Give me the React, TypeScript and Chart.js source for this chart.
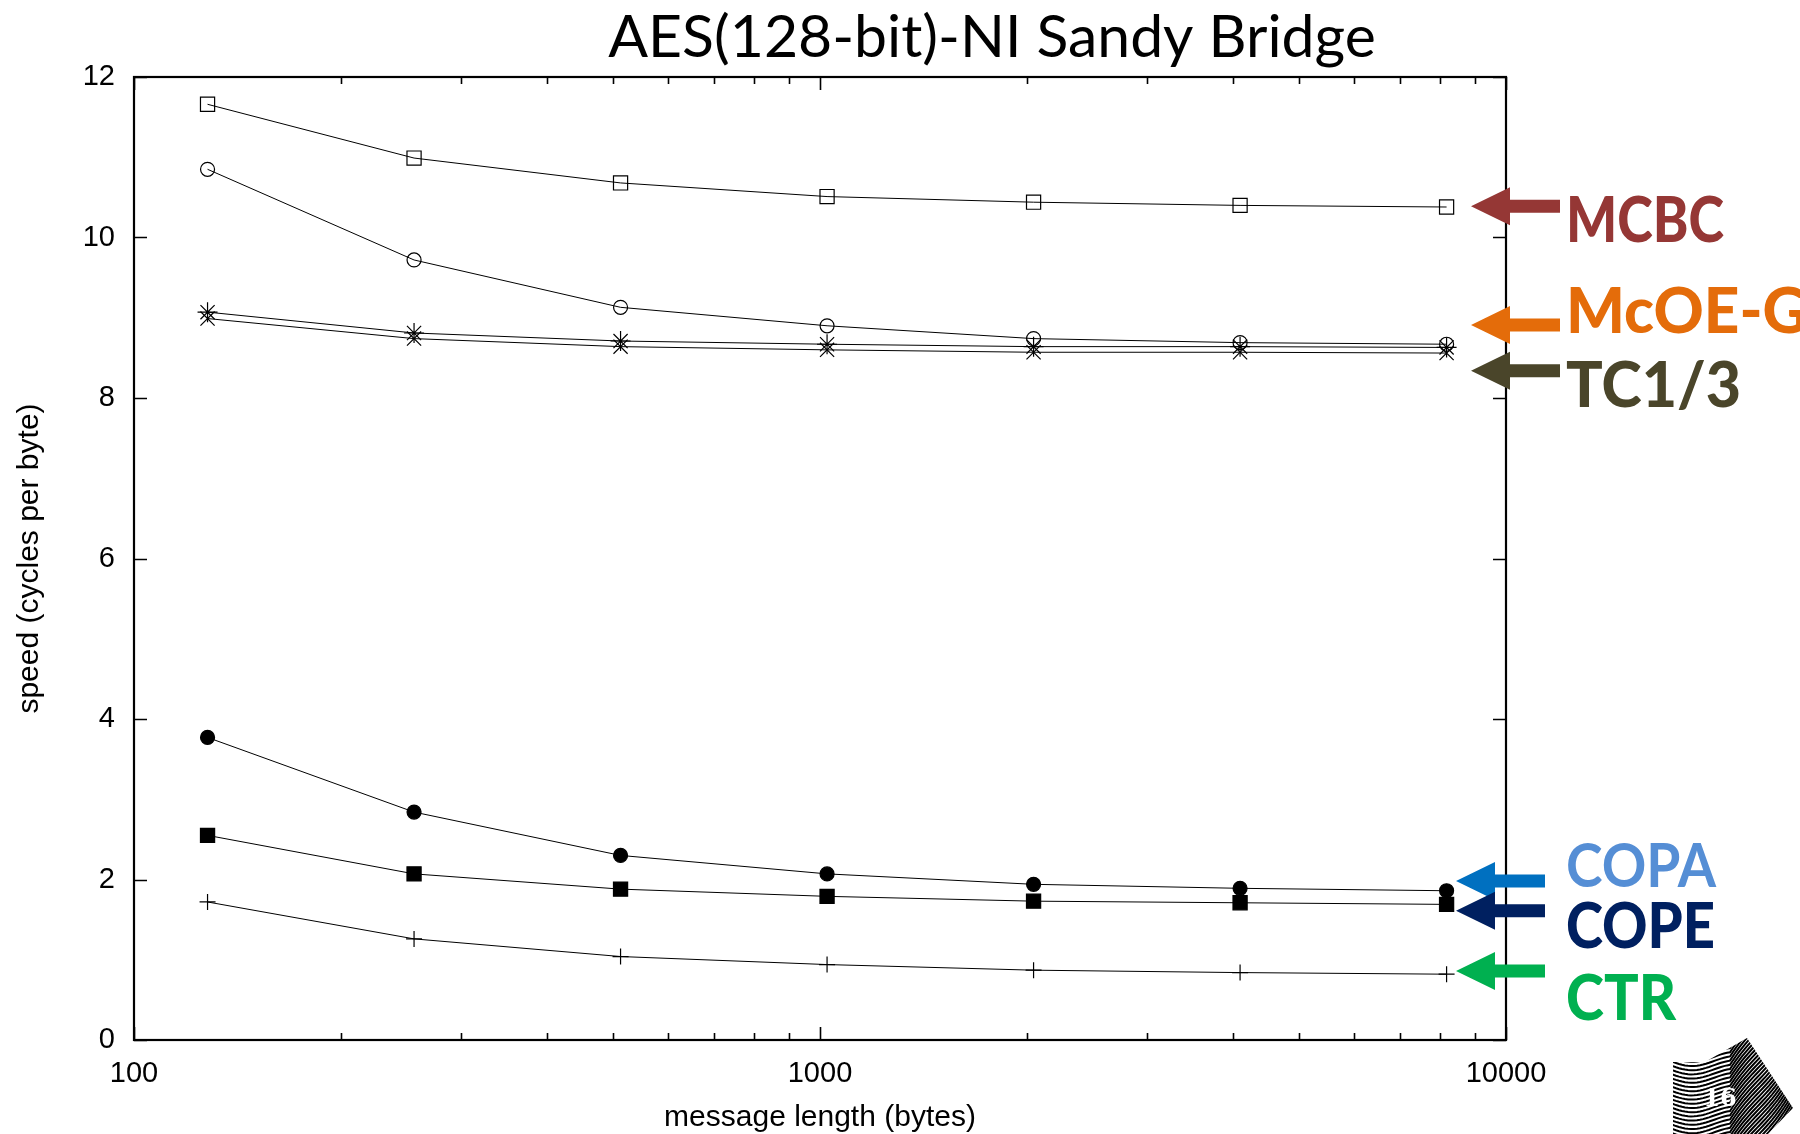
import React, { useEffect, useRef } from 'react';
import { Chart, registerables } from 'chart.js';

Chart.register(...registerables);

// ---- data ----
const messageLengths = [128, 256, 512, 1024, 2048, 4096, 8192];
const mcbcSpeed = [11.66, 10.99, 10.68, 10.51, 10.44, 10.40, 10.38];
const mcoegSpeed = [10.85, 9.72, 9.13, 8.90, 8.74, 8.69, 8.67];
const tc1Speed = [9.07, 8.81, 8.71, 8.67, 8.64, 8.64, 8.63];
const tc3Speed = [8.99, 8.74, 8.64, 8.60, 8.57, 8.57, 8.56];
const copaSpeed = [3.77, 2.84, 2.30, 2.07, 1.94, 1.89, 1.86];
const copeSpeed = [2.55, 2.07, 1.88, 1.79, 1.73, 1.71, 1.69];
const ctrSpeed = [1.72, 1.26, 1.04, 0.94, 0.87, 0.84, 0.82];

const xMajorTicks = [100, 1000, 10000];
const xMinorTicks = [200, 300, 400, 500, 600, 700, 800, 900, 2000, 3000, 4000, 5000, 6000, 7000, 8000, 9000];
const yTickValues = [0, 2, 4, 6, 8, 10, 12];

const chartTitle = 'AES(128-bit)-NI Sandy Bridge';
const xTitle = 'message length (bytes)';
const yTitle = 'speed (cycles per byte)';

// annotation labels: arrow points at a speed value
const noteTexts = ['MCBC', 'McOE-G', 'TC1/3', 'COPA', 'COPE', 'CTR'];
const noteArrowAt = [10.39, 8.91, 8.34, 1.98, 1.61, 0.86];
const noteTextAt = [9.94, 8.81, 7.89, 1.91, 1.15, 0.25];
const noteArrowColors = ['#953735', '#E46C0A', '#4A452A', '#0070C0', '#002060', '#00B050'];
const noteTextColors = ['#953735', '#E46C0A', '#4A452A', '#558ED5', '#002060', '#00B050'];
const noteTextWidths = [158, 260, 175, 150, 149, 110];
const noteGroup = [0, 0, 0, 1, 1, 1];

const AXIS_FONT = '"Liberation Sans", Arial, Helvetica, sans-serif';

const toPoints = (ys: number[]) => messageLengths.map((x, i) => ({ x, y: ys[i] }));

const framePlugin = {
  id: 'gnuplotFrame',
  afterDatasetsDraw(chart: any) {
    const { ctx, chartArea } = chart;
    const xs = chart.scales.x;
    const ys = chart.scales.y;
    const { left, right, top, bottom } = chartArea;
    ctx.save();
    ctx.strokeStyle = '#000';
    ctx.lineWidth = 1.6;
    ctx.beginPath();
    for (const v of yTickValues) {
      const py = Math.round(ys.getPixelForValue(v)) + 0.5;
      ctx.moveTo(left, py); ctx.lineTo(left + 13, py);
      ctx.moveTo(right, py); ctx.lineTo(right - 13, py);
    }
    for (const v of xMajorTicks) {
      const px = Math.round(xs.getPixelForValue(v)) + 0.5;
      ctx.moveTo(px, bottom); ctx.lineTo(px, bottom - 13);
      ctx.moveTo(px, top); ctx.lineTo(px, top + 13);
    }
    for (const v of xMinorTicks) {
      const px = Math.round(xs.getPixelForValue(v)) + 0.5;
      ctx.moveTo(px, bottom); ctx.lineTo(px, bottom - 7);
      ctx.moveTo(px, top); ctx.lineTo(px, top + 7);
    }
    ctx.stroke();
    ctx.lineWidth = 2.2;
    ctx.strokeRect(left, top, right - left, bottom - top);
    ctx.restore();
  },
  afterDraw(chart: any) {
    const { ctx, chartArea } = chart;
    const ys = chart.scales.y;
    const right = chartArea.right;
    ctx.save();

    // title
    ctx.fillStyle = '#000';
    let size = 52;
    ctx.font = `${size}px Lato, "Open Sans", sans-serif`;
    const w = ctx.measureText(chartTitle).width;
    size = size * 768 / w;
    ctx.font = `${size.toFixed(1)}px Lato, "Open Sans", sans-serif`;
    ctx.textAlign = 'center';
    ctx.textBaseline = 'alphabetic';
    ctx.fillText(chartTitle, (chartArea.left + right) / 2 + 172, 57);

    // arrows + labels
    noteTexts.forEach((txt, i) => {
      const cy = ys.getPixelForValue(noteArrowAt[i]);
      const g = noteGroup[i];
      const tip = g === 0 ? right - 35 : right - 50;
      const headBack = tip + 39;
      const shaftEnd = tip + 89;
      ctx.fillStyle = noteArrowColors[i];
      ctx.beginPath();
      ctx.moveTo(tip, cy);
      ctx.lineTo(headBack, cy - 19);
      ctx.lineTo(headBack, cy - 6.5);
      ctx.lineTo(shaftEnd, cy - 6.5);
      ctx.lineTo(shaftEnd, cy + 6.5);
      ctx.lineTo(headBack, cy + 6.5);
      ctx.lineTo(headBack, cy + 19);
      ctx.closePath();
      ctx.fill();

      const ty = ys.getPixelForValue(noteTextAt[i]);
      ctx.fillStyle = noteTextColors[i];
      ctx.font = `${i === 3 ? 'bold' : '900'} 62px Lato, "Open Sans", sans-serif`;
      ctx.textAlign = 'left';
      ctx.textBaseline = 'alphabetic';
      ctx.fillText(txt, right + 60, ty, noteTextWidths[i]);
    });

    // page-number watermark
    ctx.save();
    ctx.beginPath();
    ctx.moveTo(1673, 1062);
    ctx.lineTo(1705, 1062);
    ctx.lineTo(1747, 1038);
    ctx.lineTo(1793, 1108);
    ctx.lineTo(1768, 1134);
    ctx.lineTo(1673, 1134);
    ctx.closePath();
    ctx.clip();
    ctx.strokeStyle = '#000';
    ctx.lineWidth = 2;
    for (let k = -40; k < 60; k++) {
      ctx.beginPath();
      const y0 = 1040 + k * 4.2;
      for (let px = 1670; px <= 1800; px += 3) {
        const yy = y0 + 5 * Math.sin((px - 1670) / 14) + (px > 1730 ? -(px - 1730) * 1.4 : 0);
        if (px === 1670) ctx.moveTo(px, yy); else ctx.lineTo(px, yy);
      }
      ctx.stroke();
    }
    ctx.restore();
    ctx.fillStyle = '#fff';
    ctx.font = 'bold 24px "DejaVu Serif", serif';
    ctx.textAlign = 'center';
    ctx.textBaseline = 'middle';
    ctx.fillText('16', 1720, 1100);

    ctx.restore();
  },
};

export default function App() {
  const canvasRef = useRef<HTMLCanvasElement | null>(null);

  useEffect(() => {
    document.body.style.margin = '0';
    document.body.style.overflow = 'hidden';
    const canvas = canvasRef.current;
    if (!canvas) return;

    const lineBase = {
      borderColor: '#000',
      borderWidth: 1,
      pointBorderColor: '#000',
      pointBorderWidth: 1.2,
      tension: 0,
      fill: false,
    };

    const chart = new Chart(canvas, {
      type: 'line',
      data: {
        datasets: [
          { ...lineBase, label: 'MCBC', data: toPoints(mcbcSpeed), pointStyle: 'rect', pointRadius: 10, pointBackgroundColor: 'rgba(0,0,0,0)' },
          { ...lineBase, label: 'McOE-G', data: toPoints(mcoegSpeed), pointStyle: 'circle', pointRadius: 7, pointBackgroundColor: 'rgba(0,0,0,0)' },
          { ...lineBase, label: 'TC1', data: toPoints(tc1Speed), pointStyle: 'star', pointRadius: 10, pointBackgroundColor: 'rgba(0,0,0,0)' },
          { ...lineBase, label: 'TC3', data: toPoints(tc3Speed), pointStyle: 'crossRot', pointRadius: 10, pointBackgroundColor: 'rgba(0,0,0,0)' },
          { ...lineBase, label: 'COPA', data: toPoints(copaSpeed), pointStyle: 'circle', pointRadius: 7, pointBackgroundColor: '#000' },
          { ...lineBase, label: 'COPE', data: toPoints(copeSpeed), pointStyle: 'rect', pointRadius: 10, pointBackgroundColor: '#000' },
          { ...lineBase, label: 'CTR', data: toPoints(ctrSpeed), pointStyle: 'cross', pointRadius: 8, pointBackgroundColor: 'rgba(0,0,0,0)' },
        ],
      },
      options: {
        responsive: false,
        animation: false,
        layout: { padding: { left: 0, top: 77, right: 294, bottom: 0 } },
        plugins: {
          legend: { display: false },
          tooltip: { enabled: false },
          title: { display: false },
        },
        scales: {
          x: {
            type: 'logarithmic',
            min: 100,
            max: 10000,
            afterBuildTicks: (s: any) => { s.ticks = xMajorTicks.map((v) => ({ value: v })); },
            afterFit: (s: any) => { s.height = 94; },
            ticks: {
              autoSkip: false,
              maxRotation: 0,
              padding: 17,
              color: '#000',
              font: { family: AXIS_FONT, size: 29 },
              callback: (v: any) => String(v),
            },
            grid: { display: false, drawTicks: false },
            border: { display: false },
            title: {
              display: true,
              text: xTitle,
              color: '#000',
              font: { family: AXIS_FONT, size: 30 },
              padding: { top: 0, bottom: -2 },
            },
          },
          y: {
            type: 'linear',
            min: 0,
            max: 12,
            afterBuildTicks: (s: any) => { s.ticks = yTickValues.map((v) => ({ value: v })); },
            afterFit: (s: any) => { s.width = 134; },
            ticks: {
              padding: 19,
              color: '#000',
              font: { family: AXIS_FONT, size: 29 },
            },
            grid: { display: false, drawTicks: false },
            border: { display: false },
            title: {
              display: true,
              text: yTitle,
              color: '#000',
              font: { family: AXIS_FONT, size: 30 },
              padding: { top: 12, bottom: 0 },
            },
          },
        },
      },
      plugins: [framePlugin],
    } as any);

    return () => chart.destroy();
  }, []);

  return (
    <div style={{ width: 1800, height: 1134, background: '#fff' }}>
      <canvas ref={canvasRef} width={1800} height={1134} style={{ display: 'block' }} />
    </div>
  );
}
